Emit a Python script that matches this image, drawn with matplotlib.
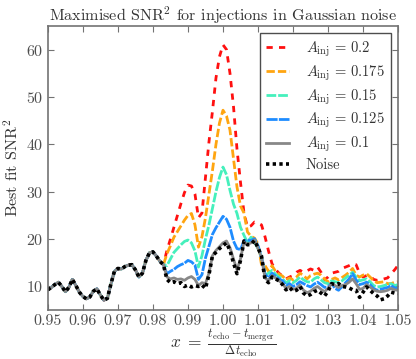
import numpy as np
import matplotlib
matplotlib.use("Agg")
import matplotlib.pyplot as plt

x_start, x_step = 0.950, 0.001

# part shared by every curve (0.950 - 0.983)
shared = [9.3, 9.8, 10.4, 10.9, 10.0, 8.9, 9.8, 11.5, 10.2, 8.8,
          7.9, 7.4, 7.8, 9.0, 9.5, 8.2, 7.1, 7.5, 10.5, 13.2,
          13.8, 13.7, 14.2, 14.5, 14.6, 13.5, 12.0, 12.8, 15.5, 17.1,
          17.3, 16.4, 15.3, 14.6]

# 0.984 - 1.050
a_020 = [17.6, 20.0, 22.5, 25.0, 27.5, 29.8, 31.4, 31.2, 29.5, 24.5,
         25.5, 33.0, 40.5, 47.0, 54.0, 58.5, 61.0, 60.0, 55.0, 48.0,
         39.0, 32.0, 25.5, 22.5, 22.8, 23.6, 23.4, 23.0, 20.5, 17.5,
         14.8, 13.6, 12.8, 12.2, 11.6, 12.0, 12.3, 13.0, 13.4, 13.0,
         13.3, 13.7, 13.4, 14.1, 13.0, 11.4, 12.0, 12.8, 13.0, 13.2,
         13.8, 14.1, 14.4, 14.8, 14.6, 12.8, 12.0, 12.3, 12.2, 11.5,
         11.3, 11.4, 11.6, 11.8, 12.7, 13.5, 14.5]
a_0175 = [16.9, 18.6, 20.4, 21.6, 22.8, 24.0, 25.0, 25.4, 23.0, 18.3,
          20.5, 24.5, 29.5, 34.5, 40.0, 44.5, 47.2, 46.0, 43.0, 37.0,
          31.0, 27.0, 25.5, 21.5, 20.6, 20.2, 19.0, 14.6, 14.4, 13.2,
          14.4, 13.2, 12.6, 12.2, 11.4, 11.8, 11.4, 12.0, 12.8, 12.3,
          11.6, 12.3, 12.6, 12.8, 12.4, 11.6, 10.9, 11.5, 11.8, 11.4,
          11.9, 12.4, 13.0, 13.8, 12.4, 12.0, 12.4, 12.7, 12.0, 11.2,
          10.8, 10.9, 11.0, 10.6, 10.6, 10.9, 11.0]
a_015 = [14.4, 15.8, 17.2, 18.0, 18.8, 19.5, 19.8, 19.2, 17.5, 14.1,
         16.5, 20.0, 23.0, 26.5, 30.0, 33.0, 35.2, 33.6, 30.3, 27.4,
         25.4, 22.5, 20.8, 19.2, 20.4, 19.4, 18.0, 16.2, 12.4, 12.8,
         13.4, 12.6, 12.0, 11.6, 10.8, 11.2, 10.8, 11.3, 12.0, 11.4,
         11.0, 10.9, 11.6, 12.0, 11.4, 10.8, 10.6, 11.2, 11.0, 10.8,
         11.2, 11.8, 12.4, 13.0, 12.0, 11.2, 11.4, 11.6, 11.0, 10.2,
         9.9, 10.0, 10.2, 10.4, 10.6, 10.2, 10.4]
a_0125 = [12.7, 13.2, 13.6, 14.2, 14.6, 14.9, 15.5, 15.2, 14.5, 11.5,
          12.5, 16.0, 18.5, 21.0, 22.4, 23.6, 24.8, 24.2, 22.5, 19.6,
          18.0, 17.8, 19.6, 19.8, 19.7, 20.1, 18.6, 16.2, 12.6, 11.8,
          12.8, 12.2, 11.6, 11.2, 10.2, 10.6, 10.0, 10.4, 11.0, 10.6,
          10.2, 9.9, 10.5, 10.9, 10.4, 9.8, 9.9, 10.7, 9.6, 9.2,
          10.0, 10.8, 11.6, 12.7, 11.4, 10.4, 10.6, 10.9, 10.4, 9.6,
          9.2, 9.4, 9.6, 9.8, 10.2, 9.7, 9.6]
a_010 = [12.0, 11.6, 11.8, 11.5, 11.6, 11.3, 11.8, 12.1, 11.5, 10.2,
         10.8, 10.6, 12.8, 16.5, 17.6, 18.4, 19.2, 19.6, 18.2, 15.8,
         13.5, 15.8, 19.4, 18.9, 19.2, 19.8, 18.0, 16.2, 11.8, 11.2,
         12.3, 11.8, 11.2, 10.6, 9.6, 10.0, 9.4, 9.6, 10.3, 9.2,
         8.7, 9.0, 9.6, 10.0, 9.4, 8.9, 9.6, 10.6, 10.2, 9.8,
         10.2, 10.4, 10.9, 11.6, 10.6, 9.4, 9.6, 10.4, 9.9, 9.3,
         9.0, 8.9, 9.0, 9.2, 9.6, 9.3, 9.2]
noise = [11.5, 10.8, 11.0, 10.6, 10.8, 10.0, 10.3, 9.9, 10.2, 10.0,
         10.3, 9.6, 12.5, 16.5, 17.2, 18.0, 18.6, 19.2, 17.6, 15.0,
         12.7, 15.5, 19.6, 18.8, 18.9, 19.7, 18.2, 16.4, 11.5, 10.8,
         12.0, 11.6, 11.2, 10.4, 9.3, 9.8, 9.0, 9.2, 10.0, 8.6,
         8.0, 8.3, 8.9, 9.2, 8.6, 8.0, 9.0, 10.6, 10.4, 10.6,
         10.0, 9.9, 9.7, 9.3, 9.2, 7.7, 8.8, 9.9, 9.2, 8.5,
         8.0, 7.2, 7.4, 8.0, 8.8, 8.6, 8.5]

labels = [r"$A_{\rm inj}\,=\,0.2$", r"$A_{\rm inj}\,=\,0.175$", r"$A_{\rm inj}\,=\,0.15$",
          r"$A_{\rm inj}\,=\,0.125$", r"$A_{\rm inj}\,=\,0.1$", "Noise"]
colors = ["#ff1010", "#ffa510", "#45f0bc", "#1e8cff", "#888888", "black"]

plt.rcParams["font.family"] = "serif"
plt.rcParams["font.serif"] = ["cmr10"]
plt.rcParams["mathtext.fontset"] = "cm"
plt.rcParams["axes.formatter.use_mathtext"] = True
plt.rcParams["lines.scale_dashes"] = False
plt.rcParams["axes.unicode_minus"] = False

series = [a_020, a_0175, a_015, a_0125, a_010, noise]
styles = [(0, (4.5, 4.5)), (0, (6, 2.2)), (0, (7, 1.4)), (0, (8, 0.9)), "-", (0, (2.4, 2.4))]
widths = [2.0, 2.0, 2.0, 2.0, 2.0, 2.6]

n = len(shared) + len(noise)
x = x_start + x_step * np.arange(n)

fig = plt.figure(figsize=(4.16, 3.59), dpi=100)
ax = fig.add_axes([0.115, 0.136, 0.842, 0.792])
for vals, lab, col, ls, lw in zip(series, labels, colors, styles, widths):
    ax.plot(x, shared + vals, color=col, ls=ls, lw=lw, label=lab)

ax.set_xlim(0.95, 1.05)
ax.set_ylim(5, 65)
ax.set_xticks(np.round(np.arange(0.95, 1.0501, 0.01), 2))
ax.set_xticklabels([f"{v:.2f}" for v in np.arange(0.95, 1.0501, 0.01)])
ax.set_yticks([10, 20, 30, 40, 50, 60])
ax.tick_params(direction="in", top=True, right=True, length=4, labelsize=11.5,
               colors="0.45", labelcolor="0.3", pad=3)
for s in ax.spines.values():
    s.set_color("0.45")
    s.set_linewidth(1.2)

ax.set_title(r"Maximised SNR$^2$ for injections in Gaussian noise", fontsize=11.6,
             color="0.2", pad=4)
ax.set_ylabel(r"Best fit SNR$^2$", fontsize=11.6, color="0.2", labelpad=4)
ax.set_xlabel(r"$x\;=\;\frac{t_{\rm echo} - t_{\rm merger}}{\Delta t_{\rm echo}}$",
              fontsize=12.5, color="0.2", labelpad=0)

leg = ax.legend(loc="upper right", fontsize=10.5, fancybox=False, framealpha=1,
                handlelength=1.6, borderpad=0.45, labelspacing=0.3,
                handletextpad=1.1, borderaxespad=0.5)
leg.get_frame().set_edgecolor("0.3")
leg.get_frame().set_linewidth(1.0)
for t in leg.get_texts():
    t.set_color("0.2")

fig.savefig("out.png", dpi=100)
